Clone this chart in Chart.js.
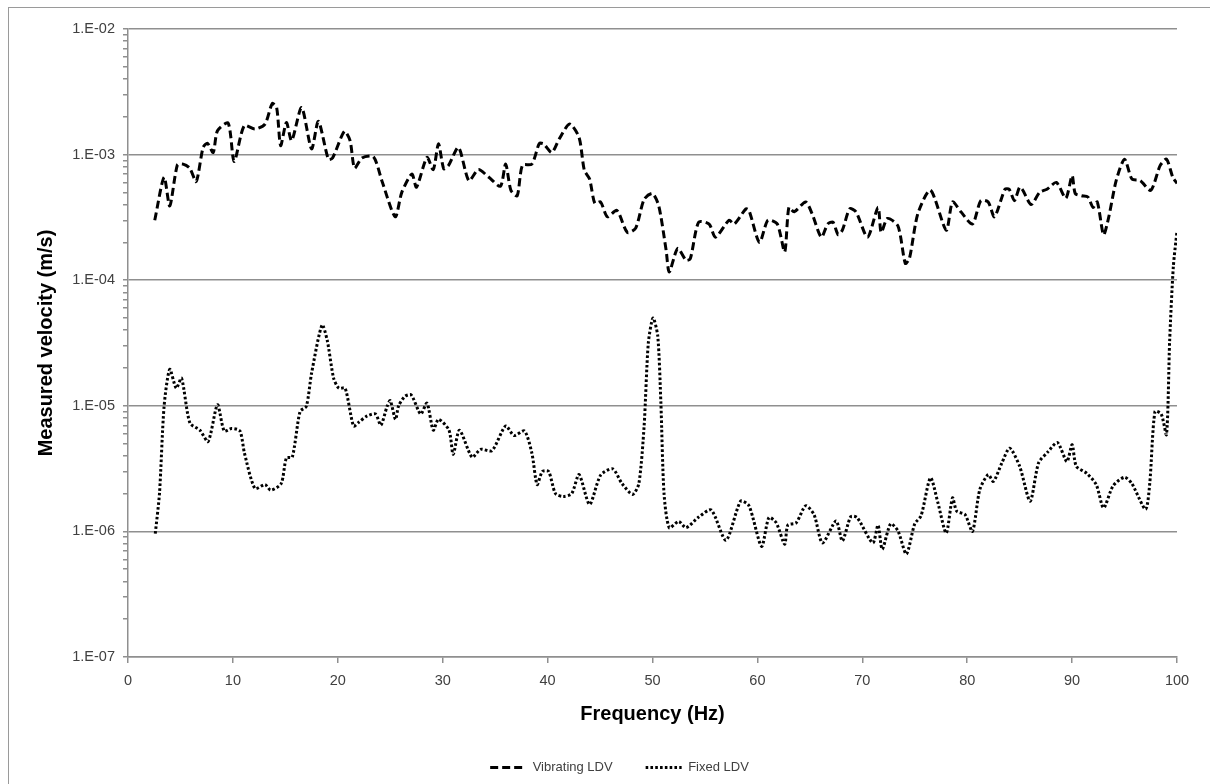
<!DOCTYPE html>
<html>
<head>
<meta charset="utf-8">
<script src="https://cdn.jsdelivr.net/npm/chart.js@4.4.1/dist/chart.umd.min.js"></script>
<style>
  html, body { margin: 0; padding: 0; background: #fff; overflow: hidden; }
  #wrap { position: relative; width: 1210px; height: 784px; }
  #frame { position: absolute; left: 8px; top: 7px; width: 1400px; height: 1000px; border: 1px solid #9a9a9a; pointer-events: none; }
  canvas { position: absolute; left: 0; top: 0; }
</style>
</head>
<body>
<div id="wrap">
  <canvas id="c" width="1210" height="784"></canvas>
  <div id="frame"></div>
</div>
<script>
// ---- Data ----
const vibFreq = [2.55,3.44,3.98,4.71,5.25,5.89,6.5,7.16,7.58,8.12,8.53,9.55,10.12,11.08,12.1,13.06,13.75,14.17,14.55,15.1,15.6,16.55,17.5,18.15,19.1,19.5,20.63,21.17,21.6,22.3,23.4,24.2,25.47,26.1,27.06,27.5,28.5,29.1,29.6,30.1,30.56,31.5,32.5,33.4,34.4,35.5,36.0,36.5,37.1,37.6,38.5,39.2,39.6,40.4,41.1,42.1,43.0,43.5,44.0,44.5,45.05,45.7,46.6,47.6,48.4,49.2,50.0,50.6,51.3,51.6,52.4,53.2,53.6,54.4,55.4,56.0,57.3,57.8,58.9,59.2,60.2,61.0,61.9,62.6,63.0,63.5,64.6,65.2,66.1,66.7,67.2,67.7,68.1,68.8,69.4,70.5,71.5,71.8,72.4,73.4,74.1,74.5,75.3,76.5,78.0,78.6,79.4,80.5,81.3,82.0,82.6,83.6,84.0,84.5,85.0,85.3,86.1,86.9,87.6,88.5,89.4,90.0,90.3,90.9,91.5,92.0,92.4,93.0,93.5,94.2,95.0,95.7,96.5,97.5,98.4,99.0,99.6,100];
const vibVel = [3.0e-4,6.6e-4,3.9e-4,8.3e-4,8.4e-4,7.8e-4,6.1e-4,1.14e-3,1.23e-3,1.04e-3,1.55e-3,1.78e-3,8.8e-4,1.7e-3,1.6e-3,1.75e-3,2.55e-3,2.37e-3,1.18e-3,1.8e-3,1.29e-3,2.37e-3,1.11e-3,1.84e-3,9.2e-4,9.4e-4,1.53e-3,1.29e-3,7.8e-4,9.4e-4,9.6e-4,6.2e-4,3.2e-4,5.0e-4,7.0e-4,5.5e-4,9.5e-4,7.6e-4,1.22e-3,7.7e-4,8.2e-4,1.14e-3,6.2e-4,7.6e-4,6.6e-4,5.6e-4,8.4e-4,5.2e-4,4.7e-4,8.2e-4,8.4e-4,1.22e-3,1.22e-3,1.04e-3,1.33e-3,1.75e-3,1.37e-3,7.5e-4,6.4e-4,4.1e-4,4.2e-4,3.2e-4,3.6e-4,2.4e-4,2.6e-4,4.4e-4,4.9e-4,3.9e-4,1.73e-4,1.16e-4,1.79e-4,1.44e-4,1.48e-4,2.9e-4,2.8e-4,2.2e-4,3.0e-4,2.8e-4,3.7e-4,3.6e-4,2.0e-4,3.0e-4,2.8e-4,1.68e-4,3.8e-4,3.5e-4,4.2e-4,3.4e-4,2.2e-4,2.8e-4,2.9e-4,2.3e-4,2.5e-4,3.7e-4,3.5e-4,2.2e-4,3.8e-4,2.4e-4,3.1e-4,2.7e-4,1.36e-4,1.5e-4,3.4e-4,5.2e-4,2.5e-4,4.2e-4,3.5e-4,2.8e-4,4.3e-4,4.2e-4,3.2e-4,5.3e-4,5.3e-4,4.3e-4,5.5e-4,5.2e-4,4.0e-4,5.0e-4,5.3e-4,6.0e-4,4.5e-4,6.8e-4,4.9e-4,4.7e-4,4.6e-4,3.8e-4,4.2e-4,2.3e-4,3.2e-4,6.2e-4,9.2e-4,6.4e-4,6.2e-4,5.2e-4,8.2e-4,9.2e-4,6.6e-4,5.9e-4];

const fixFreq = [2.6,3.0,3.44,3.98,4.6,5.1,5.9,6.85,7.64,8.53,9.17,9.87,10.67,11.1,12.1,13.06,13.6,14.6,15.1,15.66,16.4,17.0,17.5,18.5,19.0,19.6,20.1,20.7,21.5,22.0,22.8,23.6,24.1,24.7,25.0,25.5,25.8,26.4,27.0,27.9,28.5,29.1,29.6,30.6,31.0,31.6,32.8,33.6,34.7,36.0,36.8,37.8,38.5,39.0,39.5,40.1,40.75,41.5,42.3,43.0,44.0,45.05,46.2,47.1,48.1,48.7,49.2,49.6,50.05,50.5,50.8,51.1,51.6,52.5,53.2,54.4,55.6,57.0,58.4,59.2,60.4,61.1,61.8,62.6,62.9,63.7,64.6,65.4,66.2,67.5,68.1,68.9,69.5,71.0,71.5,71.9,72.7,73.4,74.2,75.0,75.6,76.5,77.2,78.0,78.6,79.0,79.8,80.5,81.2,82.0,82.5,83.3,84.05,85.0,86.0,86.8,87.7,88.6,89.5,90.0,90.4,91.4,92.3,93.0,93.9,95.0,95.7,97.0,97.4,97.9,98.5,99.0,99.3,99.65,100];
const fixVel = [9.6e-7,2.0e-6,9.9e-6,1.95e-5,1.38e-5,1.66e-5,7.3e-6,6.4e-6,5.2e-6,1.02e-5,6.3e-6,6.6e-6,6.3e-6,4.2e-6,2.2e-6,2.36e-6,2.13e-6,2.4e-6,3.85e-6,3.9e-6,9.0e-6,9.9e-6,1.82e-5,4.4e-5,3.3e-5,1.66e-5,1.38e-5,1.38e-5,6.9e-6,7.4e-6,8.3e-6,8.6e-6,7.0e-6,9.9e-6,1.1e-5,7.8e-6,1.0e-5,1.19e-5,1.22e-5,8.6e-6,1.05e-5,6.4e-6,7.8e-6,6.4e-6,4.1e-6,6.4e-6,3.9e-6,4.5e-6,4.4e-6,6.9e-6,5.8e-6,6.3e-6,4.2e-6,2.36e-6,3.0e-6,3.0e-6,2.0e-6,1.9e-6,2.0e-6,2.83e-6,1.64e-6,2.8e-6,3.15e-6,2.4e-6,1.97e-6,2.4e-6,6.9e-6,3.15e-5,5.0e-5,3.6e-5,1.05e-5,2.0e-6,1.07e-6,1.2e-6,1.07e-6,1.3e-6,1.48e-6,8.5e-7,1.74e-6,1.6e-6,7.6e-7,1.29e-6,1.17e-6,7.9e-7,1.12e-6,1.17e-6,1.6e-6,1.36e-6,8.1e-7,1.21e-6,8.4e-7,1.31e-6,1.29e-6,8.1e-7,1.12e-6,7.2e-7,1.15e-6,1.01e-6,6.6e-7,1.15e-6,1.33e-6,2.67e-6,1.7e-6,9.7e-7,1.85e-6,1.45e-6,1.36e-6,1.0e-6,2.15e-6,2.83e-6,2.5e-6,3.5e-6,4.6e-6,3.3e-6,1.74e-6,3.5e-6,4.3e-6,5.1e-6,3.6e-6,4.9e-6,3.3e-6,2.9e-6,2.36e-6,1.54e-6,2.3e-6,2.7e-6,2.4e-6,1.5e-6,2.4e-6,9.0e-6,8.6e-6,5.9e-6,3.3e-5,1.28e-4,2.46e-4];

const seriesNames = ['Vibrating LDV', 'Fixed LDV'];
const yTickValues = [1e-7, 1e-6, 1e-5, 1e-4, 1e-3, 1e-2];
const yTickLabels = ['1.E-07', '1.E-06', '1.E-05', '1.E-04', '1.E-03', '1.E-02'];
const xTickValues = [0, 10, 20, 30, 40, 50, 60, 70, 80, 90, 100];
const xTickLabels = ['0', '10', '20', '30', '40', '50', '60', '70', '80', '90', '100'];

// ---- helpers ----
const toPts = (xs, ys) => xs.map((x, i) => ({ x: x, y: ys[i] }));
const decadeIndex = v => yTickValues.findIndex(t => Math.abs(Math.log10(v) - Math.log10(t)) < 1e-6);
const GRID = '#8f8f8f';
const TXT = '#404040';

const legendShift = {
  id: 'legendShift',
  afterLayout(chart) {
    const lg = chart.legend;
    if (lg) { lg.left = 62; lg.right = 1177; }
  }
};

new Chart(document.getElementById('c'), {
  type: 'line',
  data: {
    datasets: [
      {
        label: seriesNames[0],
        data: toPts(vibFreq, vibVel),
        borderColor: '#000',
        backgroundColor: '#000',
        borderWidth: 3,
        borderDash: [8, 4],
        pointRadius: 0,
        tension: 0.25,
        fill: false
      },
      {
        label: seriesNames[1],
        data: toPts(fixFreq, fixVel),
        borderColor: '#000',
        backgroundColor: '#000',
        borderWidth: 3,
        borderDash: [2.6, 2.2],
        pointRadius: 0,
        tension: 0.25,
        fill: false
      }
    ]
  },
  options: {
    responsive: false,
    animation: false,
    devicePixelRatio: 1,
    layout: { padding: { left: 0, right: 33, top: 29, bottom: 0 } },
    plugins: {
      tooltip: { enabled: false },
      legend: {
        position: 'bottom',
        labels: {
          usePointStyle: true,
          pointStyle: 'line',
          pointStyleWidth: 36,
          padding: 33,
          color: TXT,
          font: { family: 'Liberation Sans', size: 13 },
          generateLabels(chart) {
            const items = Chart.defaults.plugins.legend.labels.generateLabels(chart);
            return items.map((it, i) => {
              const ds = chart.data.datasets[it.datasetIndex];
              return Object.assign(it, {
                lineDash: ds.borderDash,
                lineWidth: ds.borderWidth,
                strokeStyle: ds.borderColor,
                fillStyle: ds.borderColor,
                pointStyle: 'line'
              });
            });
          }
        }
      }
    },
    scales: {
      x: {
        type: 'linear',
        min: 0,
        max: 100,
        afterFit(scale) { scale.height = 71; },
        afterBuildTicks(scale) { scale.ticks = xTickValues.map(v => ({ value: v })); },
        ticks: {
          autoSkip: false,
          maxRotation: 0,
          padding: 9,
          color: TXT,
          font: { family: 'Liberation Sans', size: 14.5 },
          callback: (v) => { const i = xTickValues.indexOf(v); return i >= 0 ? xTickLabels[i] : ''; }
        },
        grid: { drawOnChartArea: false, drawTicks: true, tickLength: 6, tickColor: GRID, lineWidth: 1.5 },
        border: { color: GRID, width: 1.5 },
        title: {
          display: true,
          text: 'Frequency (Hz)',
          color: '#000',
          font: { family: 'Liberation Sans', size: 20, weight: 'bold' },
          padding: { top: 0, bottom: 2 }
        }
      },
      y: {
        type: 'logarithmic',
        min: 1e-7,
        max: 1e-2,
        afterFit(scale) { scale.width = 128; },
        afterBuildTicks(scale) {
          const t = [];
          for (let d = 0; d < yTickValues.length; d++) {
            const base = yTickValues[d];
            t.push({ value: base, major: true });
            if (d < yTickValues.length - 1) {
              for (let k = 2; k <= 9; k++) t.push({ value: k * base, major: false });
            }
          }
          scale.ticks = t;
        },
        ticks: {
          autoSkip: false,
          padding: 8,
          color: TXT,
          font: { family: 'Liberation Sans', size: 14.5 },
          callback: (v) => { const i = decadeIndex(v); return i >= 0 ? yTickLabels[i] : ''; }
        },
        grid: {
          drawTicks: true,
          tickLength: 5,
          tickColor: GRID,
          lineWidth: 1.5,
          color: (ctx) => (ctx.tick && decadeIndex(ctx.tick.value) >= 0) ? GRID : 'rgba(0,0,0,0)'
        },
        border: { color: GRID, width: 1.5 },
        title: {
          display: true,
          text: 'Measured velocity (m/s)',
          color: '#000',
          font: { family: 'Liberation Sans', size: 20, weight: 'bold' },
          padding: { top: 34, bottom: 0 }
        }
      }
    }
  },
  plugins: [legendShift]
});
</script>
</body>
</html>
